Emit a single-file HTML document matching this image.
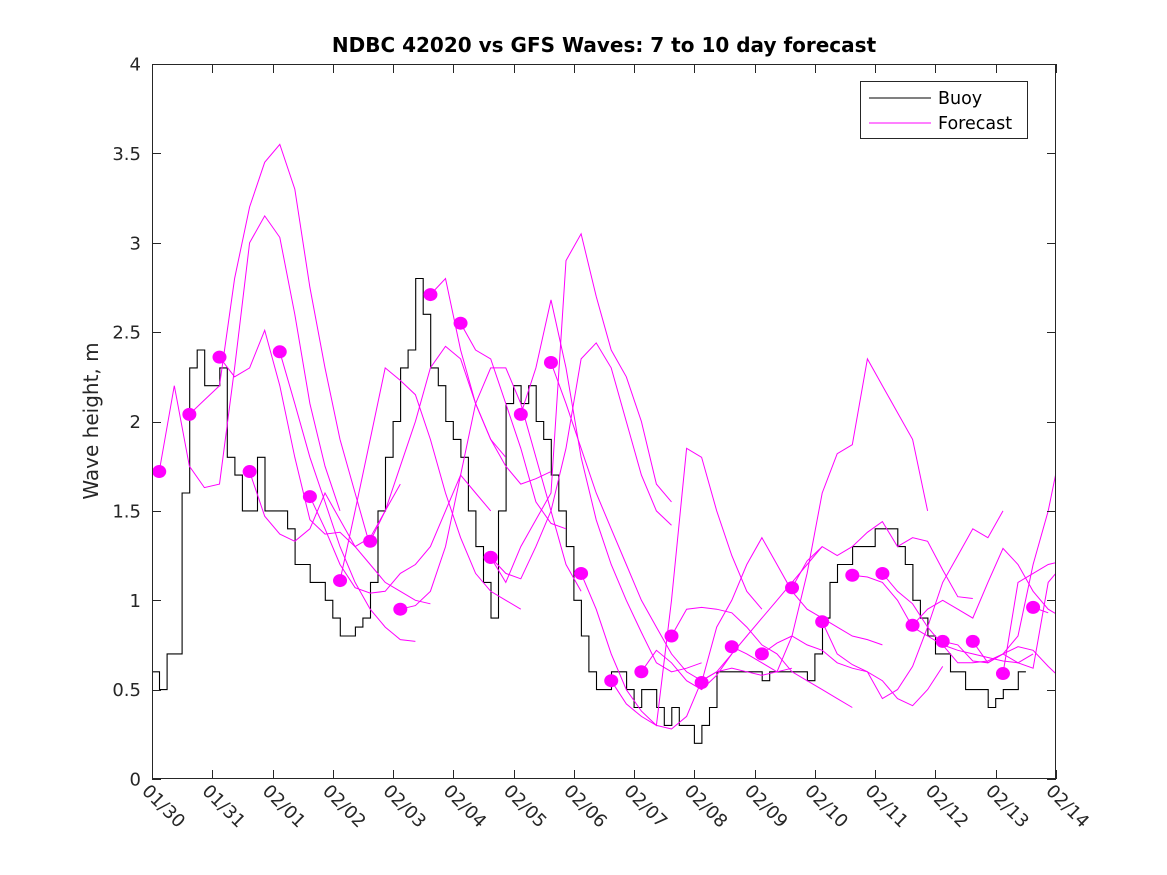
<!DOCTYPE html>
<html><head><meta charset="utf-8"><style>
html,body{margin:0;padding:0;background:#fff;}
svg{display:block;font-family:"DejaVu Sans","Liberation Sans",sans-serif;}
</style></head><body>
<svg id="chart" width="1167" height="875" viewBox="0 0 1167 875" xmlns="http://www.w3.org/2000/svg">
<rect width="1167" height="875" fill="#fff"/>
<text x="604" y="52" text-anchor="middle" font-size="20" font-weight="bold" fill="#000">NDBC 42020 vs GFS Waves: 7 to 10 day forecast</text>
<text transform="translate(98,421) rotate(-90)" text-anchor="middle" font-size="20" fill="#262626">Wave height, m</text>
<g id="plot"></g>
<g id="axes"></g>
<g>
<rect x="860.5" y="81.5" width="167" height="57" fill="#fff" stroke="#262626" stroke-width="1"/>
<line x1="869" y1="98" x2="931" y2="98" stroke="#000" stroke-width="1"/>
<text x="938" y="104" font-size="17.5" fill="#000">Buoy</text>
<line x1="869" y1="123" x2="931" y2="123" stroke="#f0f" stroke-width="1"/>
<text x="938" y="129" font-size="17.5" fill="#000">Forecast</text>
</g>
</svg>
<script>
const dayLabels=["01/30","01/31","02/01","02/02","02/03","02/04","02/05","02/06","02/07","02/08","02/09","02/10","02/11","02/12","02/13","02/14"];
const yTicks=[0,0.5,1,1.5,2,2.5,3,3.5,4];
const buoyStep=0.125;
const buoy=[0.6,0.5,0.7,0.7,1.6,2.3,2.4,2.2,2.2,2.3,1.8,1.7,1.5,1.5,1.8,1.5,1.5,1.5,1.4,1.2,1.2,1.1,1.1,1.0,0.9,0.8,0.8,0.85,0.9,1.1,1.5,1.8,2.0,2.3,2.4,2.8,2.6,2.3,2.2,2.0,1.9,1.8,1.5,1.3,1.1,0.9,1.5,2.1,2.2,2.1,2.2,2.0,1.9,1.7,1.5,1.3,1.0,0.8,0.6,0.5,0.5,0.6,0.6,0.5,0.4,0.5,0.5,0.4,0.3,0.4,0.3,0.3,0.2,0.3,0.4,0.6,0.6,0.6,0.6,0.6,0.6,0.55,0.6,0.6,0.6,0.6,0.6,0.55,0.7,0.9,1.1,1.2,1.2,1.3,1.3,1.3,1.4,1.4,1.4,1.3,1.2,1.0,0.9,0.8,0.7,0.7,0.6,0.6,0.5,0.5,0.5,0.4,0.45,0.5,0.5,0.6];
const fcStep=0.25;
const fcStarts=[0.12,0.62,1.12,1.62,2.12,2.62,3.12,3.62,4.12,4.62,5.12,5.62,5.62,6.12,6.62,7.12,7.62,8.12,8.62,9.12,9.62,10.12,10.62,11.12,11.62,12.12,12.62,13.12,13.62,14.12,14.62];
const fcVals=[
[1.72,2.2,1.75,1.63,1.65,2.3,3.0,3.15,3.03,2.6,2.1,1.75,1.5],
[2.04,2.12,2.2,2.8,3.2,3.45,3.55,3.3,2.75,2.3,1.9,1.6,1.3],
[2.36,2.25,2.3,2.51,2.2,1.8,1.45,1.37,1.38,1.3,1.35,1.5,1.65],
[1.72,1.47,1.37,1.33,1.4,1.6,1.45,1.3,1.2,1.1,1.05,1.0,0.98],
[2.39,2.1,1.8,1.55,1.3,1.1,0.95,0.85,0.78,0.77],
[1.58,1.4,1.2,1.07,1.04,1.05,1.15,1.2,1.3,1.5,1.7,1.6,1.5],
[1.11,1.5,1.9,2.3,2.23,2.15,1.9,1.6,1.35,1.15,1.05,1.0,0.95],
[1.33,1.5,1.75,2.0,2.3,2.42,2.35,2.1,1.9,1.75,1.65,1.68,1.72],
[0.95,0.97,1.05,1.3,1.7,2.1,2.3,2.3,2.1,1.8,1.5,1.2,1.05],
[2.71,2.8,2.4,2.1,1.9,1.8],
[2.55,2.4,2.35,2.1,1.85,1.55,1.43,1.4],
[1.24,1.15,1.12,1.3,1.5,1.85,2.35,2.44,2.3,2.0,1.7,1.5,1.42],
[1.24,1.1,1.3,1.45,1.6,2.9,3.05,2.7,2.4,2.25,2.0,1.65,1.55],
[2.04,2.3,2.68,2.3,1.8,1.45,1.2,1.0,0.82,0.65,0.6,0.62,0.65],
[2.33,2.1,1.85,1.6,1.4,1.2,1.0,0.85,0.7,0.6,0.55,0.6,0.7],
[1.15,0.95,0.7,0.5,0.38,0.3,1.0,1.85,1.8,1.5,1.25,1.05,0.95],
[0.55,0.42,0.35,0.3,0.28,0.35,0.55,0.6,0.62,0.6,0.58,0.6,0.62],
[0.6,0.72,0.65,0.55,0.5,0.58,0.7,0.8,0.9,1.0,1.1,1.2,1.3],
[0.8,0.95,0.96,0.95,0.93,0.85,0.75,0.7,0.6,0.55,0.5,0.45,0.4],
[0.54,0.85,1.0,1.2,1.35,1.2,1.05,0.95,0.9,0.85,0.8,0.78,0.75],
[0.74,0.7,0.65,0.6,0.8,1.15,1.6,1.82,1.87,2.35,2.2,2.05,1.9,1.5],
[0.7,0.76,0.8,0.75,0.72,0.65,0.62,0.6,0.55,0.45,0.41,0.5,0.63],
[1.07,1.22,1.3,1.25,1.3,1.38,1.44,1.3,1.35,1.33,1.17,1.02,1.01],
[0.88,0.7,0.64,0.6,0.45,0.5,0.63,0.85,1.1,1.25,1.4,1.35,1.5],
[1.14,1.13,1.1,1.0,0.85,0.8,0.75,0.72,0.7,0.68,0.66,0.65,0.7],
[1.15,1.05,0.98,0.85,0.75,0.65,0.65,0.66,0.7,0.74,0.72,0.63,0.55],
[0.86,0.95,1.0,0.95,0.9,1.1,1.29,1.2,1.05,0.95,0.9,0.9,0.88],
[0.77,0.75,0.66,0.65,0.7,0.8,1.2,1.5,1.91,1.7,1.5],
[0.77,0.65,0.7,0.65,0.62,1.1,1.2,1.15,1.2,1.22,1.2],
[0.59,1.1,1.15,1.2,1.22,1.2],
[0.96,0.93]
];
const X0=152,X1=1056,Y0=779,Y1=64,DMAX=15,VMAX=4;
function xs(d){return X0+(X1-X0)*d/DMAX;}
function ys(v){return Y0-(Y0-Y1)*v/VMAX;}
const NS="http://www.w3.org/2000/svg";
function mk(tag,attrs,parent){const e=document.createElementNS(NS,tag);for(const k in attrs)e.setAttribute(k,attrs[k]);parent.appendChild(e);return e;}
const plot=document.getElementById('plot');
const axes=document.getElementById('axes');
const defs=mk('defs',{},document.getElementById('chart'));
const cp=mk('clipPath',{id:'clip'},defs);
mk('rect',{x:X0,y:Y1,width:X1-X0,height:Y0-Y1},cp);
plot.setAttribute('clip-path','url(#clip)');
let d='';
buoy.forEach((v,i)=>{const x=xs(i*buoyStep),y=ys(v);
 if(i===0)d+='M'+x.toFixed(1)+' '+y.toFixed(1);
 else d+=' V'+y.toFixed(1);
 const xn=xs((i+1)*buoyStep);d+=' H'+xn.toFixed(1);});
const bl=mk('path',{d:d,fill:'none',stroke:'#000','stroke-width':1.1},plot);


fcVals.forEach((vals,k)=>{
 const pts=vals.map((v,i)=>xs(fcStarts[k]+i*fcStep).toFixed(1)+','+ys(v).toFixed(1)).join(' ');
 const pl=mk('polyline',{points:pts,fill:'none',stroke:'#f0f','stroke-width':1},plot);
 
 
});
fcVals.forEach((vals,k)=>{
 const c=mk('ellipse',{cx:xs(fcStarts[k]),cy:ys(vals[0]),rx:7,ry:6.5,fill:'#f0f'},plot);
 
 
});
const box=mk('rect',{x:X0+0.5,y:Y1+0.5,width:X1-X0-1,height:Y0-Y1-1,fill:'none',stroke:'#262626','stroke-width':1},axes);


yTicks.forEach(v=>{const y=Math.round(ys(v))+0.5;
 mk('line',{x1:X0,y1:y,x2:X0+9,y2:y,stroke:'#262626'},axes);
 mk('line',{x1:X1-9,y1:y,x2:X1,y2:y,stroke:'#262626'},axes);
 const t=mk('text',{x:141,y:ys(v)+6.5,'text-anchor':'end','font-size':18,fill:'#262626'},axes);
 t.textContent=String(v);
 
 
});
dayLabels.forEach((lab,i)=>{const x=Math.round(xs(i))+0.5;
 mk('line',{x1:x,y1:Y0,x2:x,y2:Y0-9,stroke:'#262626'},axes);
 mk('line',{x1:x,y1:Y1,x2:x,y2:Y1+9,stroke:'#262626'},axes);
 const t=mk('text',{transform:'translate('+(xs(i)-11)+','+(Y0+13)+') rotate(45)','font-size':18,fill:'#262626'},axes);
 t.textContent=lab;
 
 
});
</script>
</body></html>
